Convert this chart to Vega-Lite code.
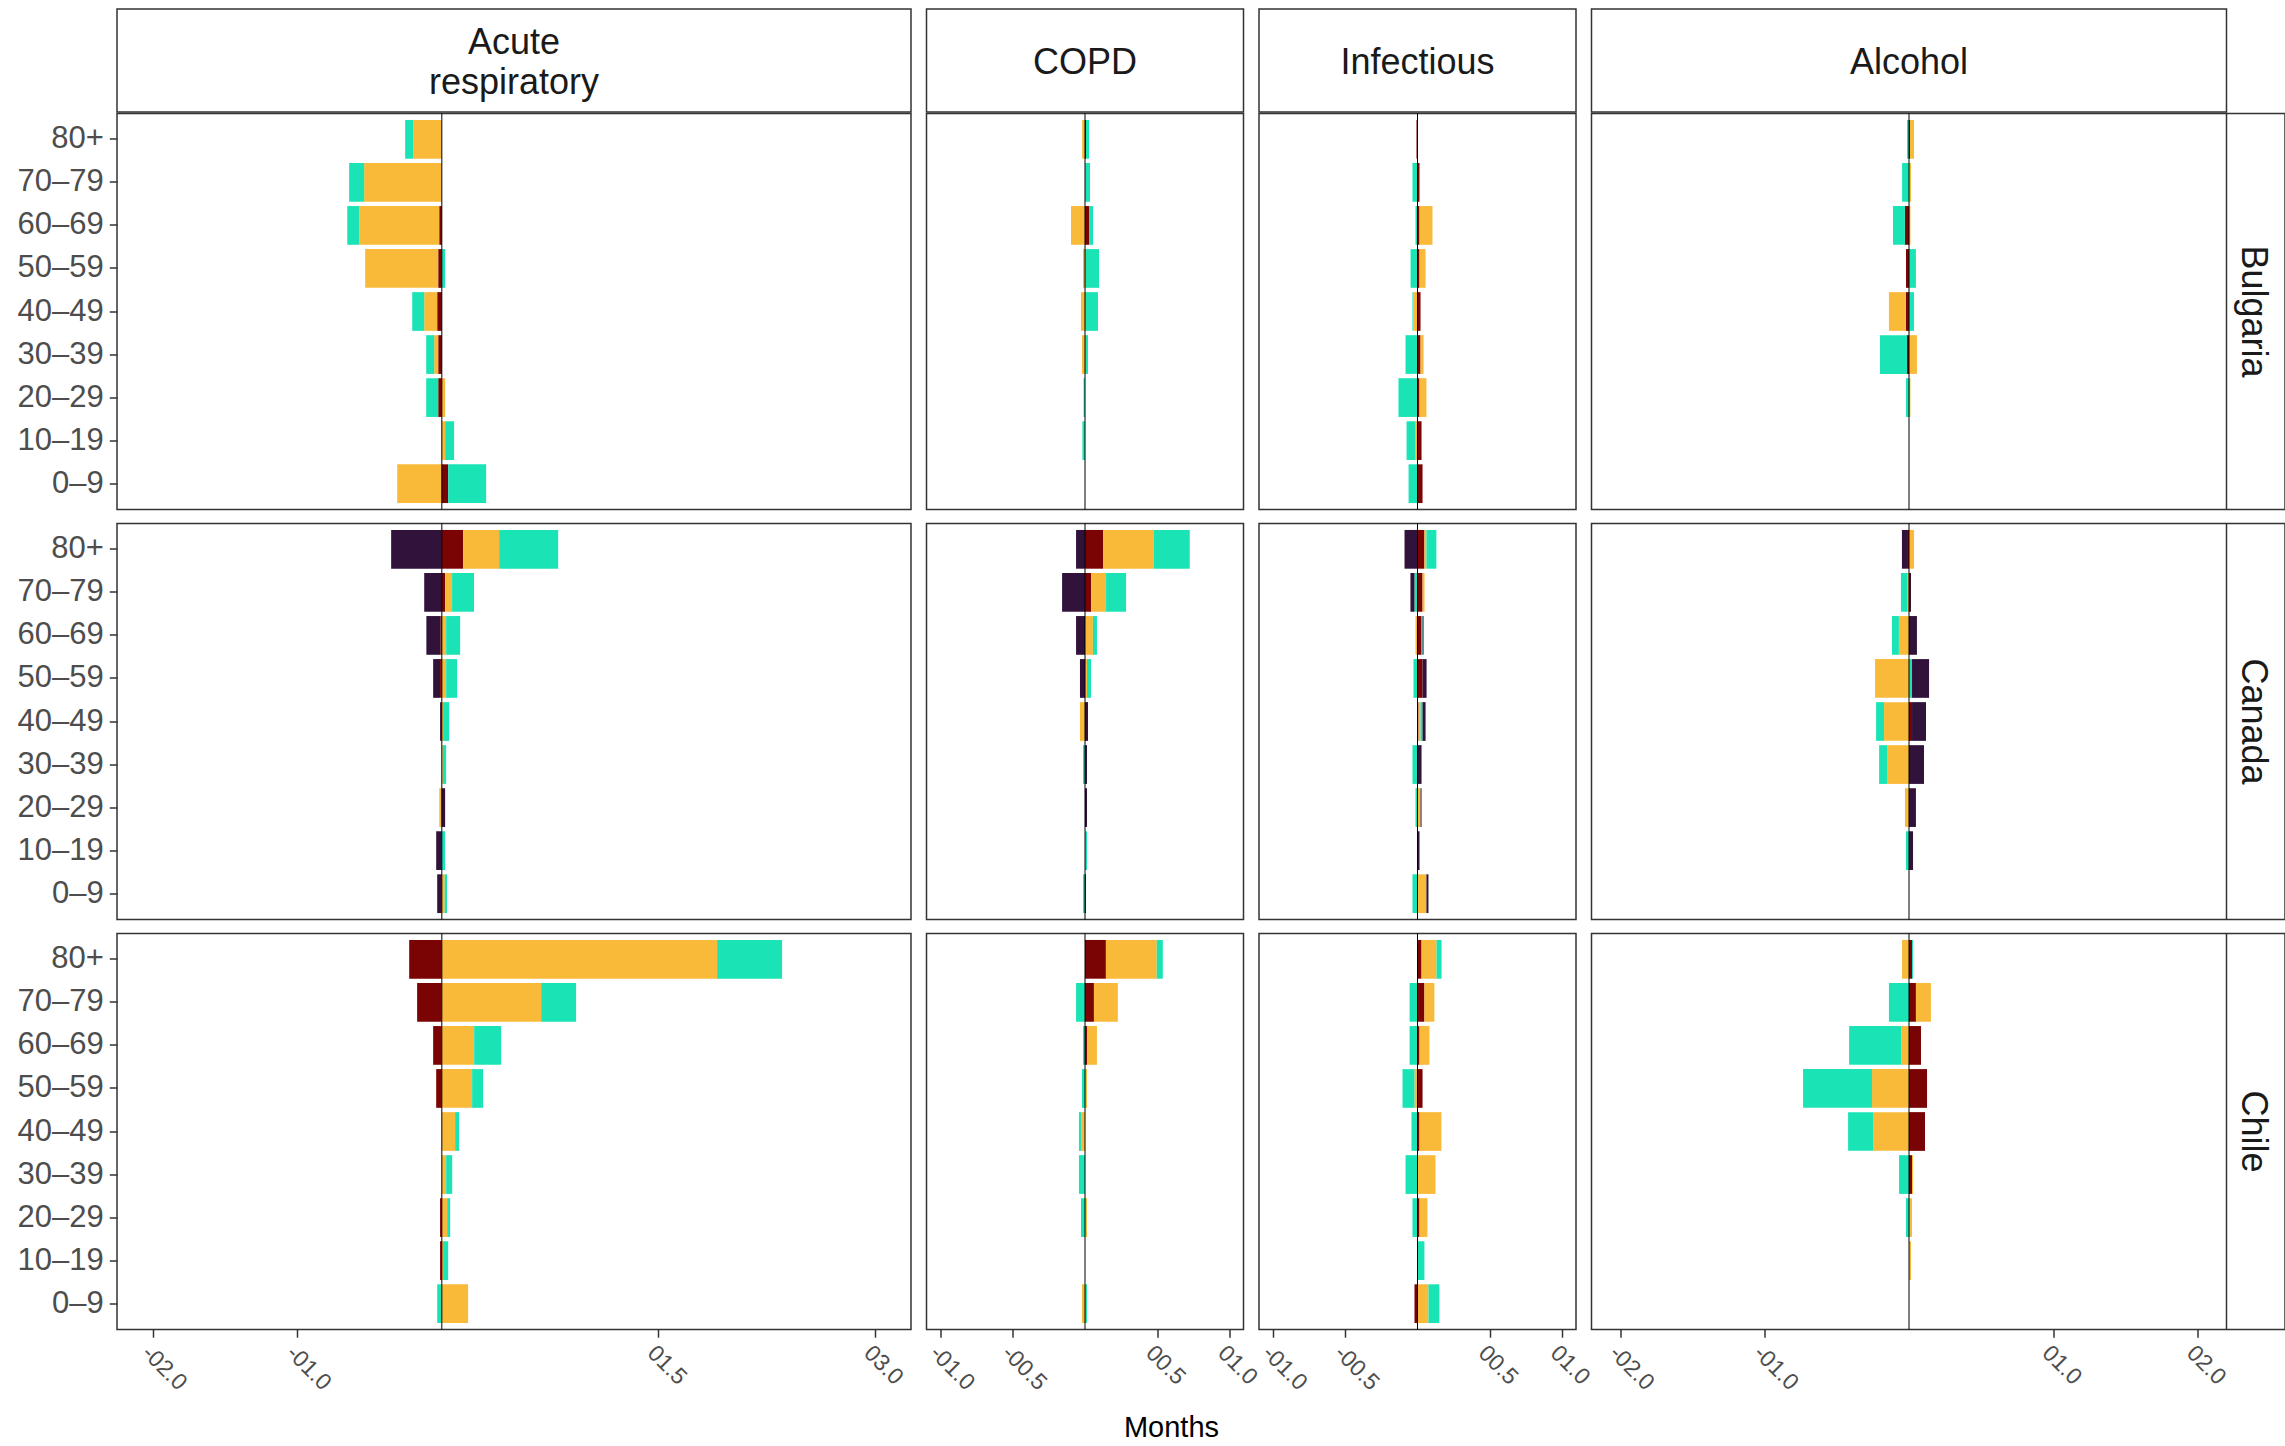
{
  "$schema": "https://vega.github.io/schema/vega-lite/v6.json",
  "background": "white",
  "padding": {"left": 16, "top": 8, "right": 0, "bottom": 0},
  "config": {
    "view": {"stroke": "#333333", "strokeWidth": 1.5},
    "font": "Liberation Sans",
    "axis": {"grid": false, "domain": false}
  },
  "datasets": {
    "d": [
      {"country":"Bulgaria","cause":"Acute respiratory","age":"80+","grp":3,"v":-0.199},
      {"country":"Bulgaria","cause":"Acute respiratory","age":"80+","grp":2,"v":-0.055},
      {"country":"Bulgaria","cause":"Acute respiratory","age":"70–79","grp":3,"v":-0.538},
      {"country":"Bulgaria","cause":"Acute respiratory","age":"70–79","grp":2,"v":-0.104},
      {"country":"Bulgaria","cause":"Acute respiratory","age":"60–69","grp":4,"v":-0.018},
      {"country":"Bulgaria","cause":"Acute respiratory","age":"60–69","grp":3,"v":-0.554},
      {"country":"Bulgaria","cause":"Acute respiratory","age":"60–69","grp":2,"v":-0.083},
      {"country":"Bulgaria","cause":"Acute respiratory","age":"50–59","grp":4,"v":-0.025},
      {"country":"Bulgaria","cause":"Acute respiratory","age":"50–59","grp":3,"v":-0.506},
      {"country":"Bulgaria","cause":"Acute respiratory","age":"50–59","grp":2,"v":0.023},
      {"country":"Bulgaria","cause":"Acute respiratory","age":"40–49","grp":4,"v":-0.032},
      {"country":"Bulgaria","cause":"Acute respiratory","age":"40–49","grp":3,"v":-0.090},
      {"country":"Bulgaria","cause":"Acute respiratory","age":"40–49","grp":2,"v":-0.083},
      {"country":"Bulgaria","cause":"Acute respiratory","age":"30–39","grp":4,"v":-0.025},
      {"country":"Bulgaria","cause":"Acute respiratory","age":"30–39","grp":3,"v":-0.028},
      {"country":"Bulgaria","cause":"Acute respiratory","age":"30–39","grp":2,"v":-0.055},
      {"country":"Bulgaria","cause":"Acute respiratory","age":"20–29","grp":4,"v":-0.025},
      {"country":"Bulgaria","cause":"Acute respiratory","age":"20–29","grp":2,"v":-0.083},
      {"country":"Bulgaria","cause":"Acute respiratory","age":"20–29","grp":3,"v":0.023},
      {"country":"Bulgaria","cause":"Acute respiratory","age":"10–19","grp":3,"v":0.023},
      {"country":"Bulgaria","cause":"Acute respiratory","age":"10–19","grp":2,"v":0.062},
      {"country":"Bulgaria","cause":"Acute respiratory","age":"0–9","grp":3,"v":-0.309},
      {"country":"Bulgaria","cause":"Acute respiratory","age":"0–9","grp":4,"v":0.044},
      {"country":"Bulgaria","cause":"Acute respiratory","age":"0–9","grp":2,"v":0.263},

      {"country":"Canada","cause":"Acute respiratory","age":"80+","grp":1,"v":-0.351},
      {"country":"Canada","cause":"Acute respiratory","age":"80+","grp":4,"v":0.148},
      {"country":"Canada","cause":"Acute respiratory","age":"80+","grp":3,"v":0.249},
      {"country":"Canada","cause":"Acute respiratory","age":"80+","grp":2,"v":0.409},
      {"country":"Canada","cause":"Acute respiratory","age":"70–79","grp":1,"v":-0.122},
      {"country":"Canada","cause":"Acute respiratory","age":"70–79","grp":4,"v":0.023},
      {"country":"Canada","cause":"Acute respiratory","age":"70–79","grp":3,"v":0.048},
      {"country":"Canada","cause":"Acute respiratory","age":"70–79","grp":2,"v":0.152},
      {"country":"Canada","cause":"Acute respiratory","age":"60–69","grp":4,"v":-0.010},
      {"country":"Canada","cause":"Acute respiratory","age":"60–69","grp":1,"v":-0.097},
      {"country":"Canada","cause":"Acute respiratory","age":"60–69","grp":3,"v":0.030},
      {"country":"Canada","cause":"Acute respiratory","age":"60–69","grp":2,"v":0.097},
      {"country":"Canada","cause":"Acute respiratory","age":"50–59","grp":4,"v":-0.012},
      {"country":"Canada","cause":"Acute respiratory","age":"50–59","grp":1,"v":-0.048},
      {"country":"Canada","cause":"Acute respiratory","age":"50–59","grp":3,"v":0.030},
      {"country":"Canada","cause":"Acute respiratory","age":"50–59","grp":2,"v":0.076},
      {"country":"Canada","cause":"Acute respiratory","age":"40–49","grp":1,"v":-0.012},
      {"country":"Canada","cause":"Acute respiratory","age":"40–49","grp":3,"v":0.009},
      {"country":"Canada","cause":"Acute respiratory","age":"40–49","grp":2,"v":0.042},
      {"country":"Canada","cause":"Acute respiratory","age":"30–39","grp":3,"v":0.007},
      {"country":"Canada","cause":"Acute respiratory","age":"30–39","grp":2,"v":0.023},
      {"country":"Canada","cause":"Acute respiratory","age":"20–29","grp":3,"v":-0.018},
      {"country":"Canada","cause":"Acute respiratory","age":"20–29","grp":1,"v":0.023},
      {"country":"Canada","cause":"Acute respiratory","age":"10–19","grp":1,"v":-0.039},
      {"country":"Canada","cause":"Acute respiratory","age":"10–19","grp":2,"v":0.023},
      {"country":"Canada","cause":"Acute respiratory","age":"0–9","grp":1,"v":-0.032},
      {"country":"Canada","cause":"Acute respiratory","age":"0–9","grp":3,"v":0.020},
      {"country":"Canada","cause":"Acute respiratory","age":"0–9","grp":2,"v":0.016},

      {"country":"Chile","cause":"Acute respiratory","age":"80+","grp":4,"v":-0.226},
      {"country":"Chile","cause":"Acute respiratory","age":"80+","grp":3,"v":1.907},
      {"country":"Chile","cause":"Acute respiratory","age":"80+","grp":2,"v":0.450},
      {"country":"Chile","cause":"Acute respiratory","age":"70–79","grp":4,"v":-0.171},
      {"country":"Chile","cause":"Acute respiratory","age":"70–79","grp":3,"v":0.688},
      {"country":"Chile","cause":"Acute respiratory","age":"70–79","grp":2,"v":0.242},
      {"country":"Chile","cause":"Acute respiratory","age":"60–69","grp":4,"v":-0.060},
      {"country":"Chile","cause":"Acute respiratory","age":"60–69","grp":3,"v":0.224},
      {"country":"Chile","cause":"Acute respiratory","age":"60–69","grp":2,"v":0.187},
      {"country":"Chile","cause":"Acute respiratory","age":"50–59","grp":4,"v":-0.039},
      {"country":"Chile","cause":"Acute respiratory","age":"50–59","grp":3,"v":0.210},
      {"country":"Chile","cause":"Acute respiratory","age":"50–59","grp":2,"v":0.076},
      {"country":"Chile","cause":"Acute respiratory","age":"40–49","grp":3,"v":0.092},
      {"country":"Chile","cause":"Acute respiratory","age":"40–49","grp":2,"v":0.028},
      {"country":"Chile","cause":"Acute respiratory","age":"30–39","grp":3,"v":0.030},
      {"country":"Chile","cause":"Acute respiratory","age":"30–39","grp":2,"v":0.042},
      {"country":"Chile","cause":"Acute respiratory","age":"20–29","grp":4,"v":-0.012},
      {"country":"Chile","cause":"Acute respiratory","age":"20–29","grp":3,"v":0.037},
      {"country":"Chile","cause":"Acute respiratory","age":"20–29","grp":2,"v":0.021},
      {"country":"Chile","cause":"Acute respiratory","age":"10–19","grp":4,"v":-0.012},
      {"country":"Chile","cause":"Acute respiratory","age":"10–19","grp":3,"v":0.009},
      {"country":"Chile","cause":"Acute respiratory","age":"10–19","grp":2,"v":0.035},
      {"country":"Chile","cause":"Acute respiratory","age":"0–9","grp":2,"v":-0.032},
      {"country":"Chile","cause":"Acute respiratory","age":"0–9","grp":3,"v":0.182},

      {"country":"Bulgaria","cause":"COPD","age":"80+","grp":3,"v":-0.020},
      {"country":"Bulgaria","cause":"COPD","age":"80+","grp":4,"v":0.007},
      {"country":"Bulgaria","cause":"COPD","age":"80+","grp":2,"v":0.021},
      {"country":"Bulgaria","cause":"COPD","age":"70–79","grp":2,"v":0.035},
      {"country":"Bulgaria","cause":"COPD","age":"60–69","grp":3,"v":-0.097},
      {"country":"Bulgaria","cause":"COPD","age":"60–69","grp":4,"v":0.028},
      {"country":"Bulgaria","cause":"COPD","age":"60–69","grp":2,"v":0.028},
      {"country":"Bulgaria","cause":"COPD","age":"50–59","grp":3,"v":-0.014},
      {"country":"Bulgaria","cause":"COPD","age":"50–59","grp":2,"v":0.097},
      {"country":"Bulgaria","cause":"COPD","age":"40–49","grp":3,"v":-0.028},
      {"country":"Bulgaria","cause":"COPD","age":"40–49","grp":2,"v":0.090},
      {"country":"Bulgaria","cause":"COPD","age":"30–39","grp":3,"v":-0.021},
      {"country":"Bulgaria","cause":"COPD","age":"30–39","grp":2,"v":0.021},
      {"country":"Bulgaria","cause":"COPD","age":"20–29","grp":2,"v":-0.010},
      {"country":"Bulgaria","cause":"COPD","age":"10–19","grp":2,"v":-0.018},

      {"country":"Canada","cause":"COPD","age":"80+","grp":1,"v":-0.062},
      {"country":"Canada","cause":"COPD","age":"80+","grp":4,"v":0.125},
      {"country":"Canada","cause":"COPD","age":"80+","grp":3,"v":0.353},
      {"country":"Canada","cause":"COPD","age":"80+","grp":2,"v":0.249},
      {"country":"Canada","cause":"COPD","age":"70–79","grp":1,"v":-0.159},
      {"country":"Canada","cause":"COPD","age":"70–79","grp":4,"v":0.042},
      {"country":"Canada","cause":"COPD","age":"70–79","grp":3,"v":0.104},
      {"country":"Canada","cause":"COPD","age":"70–79","grp":2,"v":0.139},
      {"country":"Canada","cause":"COPD","age":"60–69","grp":1,"v":-0.062},
      {"country":"Canada","cause":"COPD","age":"60–69","grp":3,"v":0.055},
      {"country":"Canada","cause":"COPD","age":"60–69","grp":2,"v":0.028},
      {"country":"Canada","cause":"COPD","age":"50–59","grp":1,"v":-0.035},
      {"country":"Canada","cause":"COPD","age":"50–59","grp":3,"v":0.014},
      {"country":"Canada","cause":"COPD","age":"50–59","grp":2,"v":0.028},
      {"country":"Canada","cause":"COPD","age":"40–49","grp":3,"v":-0.035},
      {"country":"Canada","cause":"COPD","age":"40–49","grp":1,"v":0.021},
      {"country":"Canada","cause":"COPD","age":"30–39","grp":2,"v":-0.014},
      {"country":"Canada","cause":"COPD","age":"30–39","grp":1,"v":0.014},
      {"country":"Canada","cause":"COPD","age":"20–29","grp":1,"v":0.014},
      {"country":"Canada","cause":"COPD","age":"10–19","grp":2,"v":0.014},
      {"country":"Canada","cause":"COPD","age":"0–9","grp":2,"v":-0.014},
      {"country":"Canada","cause":"COPD","age":"0–9","grp":1,"v":0.007},

      {"country":"Chile","cause":"COPD","age":"80+","grp":4,"v":0.145},
      {"country":"Chile","cause":"COPD","age":"80+","grp":3,"v":0.353},
      {"country":"Chile","cause":"COPD","age":"80+","grp":2,"v":0.042},
      {"country":"Chile","cause":"COPD","age":"70–79","grp":2,"v":-0.062},
      {"country":"Chile","cause":"COPD","age":"70–79","grp":4,"v":0.062},
      {"country":"Chile","cause":"COPD","age":"70–79","grp":3,"v":0.166},
      {"country":"Chile","cause":"COPD","age":"60–69","grp":2,"v":-0.014},
      {"country":"Chile","cause":"COPD","age":"60–69","grp":4,"v":0.014},
      {"country":"Chile","cause":"COPD","age":"60–69","grp":3,"v":0.069},
      {"country":"Chile","cause":"COPD","age":"50–59","grp":2,"v":-0.021},
      {"country":"Chile","cause":"COPD","age":"50–59","grp":3,"v":0.014},
      {"country":"Chile","cause":"COPD","age":"40–49","grp":3,"v":-0.028},
      {"country":"Chile","cause":"COPD","age":"40–49","grp":2,"v":-0.014},
      {"country":"Chile","cause":"COPD","age":"30–39","grp":2,"v":-0.042},
      {"country":"Chile","cause":"COPD","age":"20–29","grp":2,"v":-0.028},
      {"country":"Chile","cause":"COPD","age":"20–29","grp":3,"v":0.014},
      {"country":"Chile","cause":"COPD","age":"0–9","grp":3,"v":-0.021},
      {"country":"Chile","cause":"COPD","age":"0–9","grp":2,"v":0.014},

      {"country":"Bulgaria","cause":"Infectious","age":"80+","grp":4,"v":-0.007},
      {"country":"Bulgaria","cause":"Infectious","age":"70–79","grp":2,"v":-0.035},
      {"country":"Bulgaria","cause":"Infectious","age":"70–79","grp":4,"v":0.014},
      {"country":"Bulgaria","cause":"Infectious","age":"60–69","grp":2,"v":-0.014},
      {"country":"Bulgaria","cause":"Infectious","age":"60–69","grp":4,"v":0.014},
      {"country":"Bulgaria","cause":"Infectious","age":"60–69","grp":3,"v":0.090},
      {"country":"Bulgaria","cause":"Infectious","age":"50–59","grp":2,"v":-0.048},
      {"country":"Bulgaria","cause":"Infectious","age":"50–59","grp":4,"v":0.014},
      {"country":"Bulgaria","cause":"Infectious","age":"50–59","grp":3,"v":0.042},
      {"country":"Bulgaria","cause":"Infectious","age":"40–49","grp":3,"v":-0.028},
      {"country":"Bulgaria","cause":"Infectious","age":"40–49","grp":2,"v":-0.007},
      {"country":"Bulgaria","cause":"Infectious","age":"40–49","grp":4,"v":0.021},
      {"country":"Bulgaria","cause":"Infectious","age":"30–39","grp":2,"v":-0.083},
      {"country":"Bulgaria","cause":"Infectious","age":"30–39","grp":4,"v":0.021},
      {"country":"Bulgaria","cause":"Infectious","age":"30–39","grp":3,"v":0.021},
      {"country":"Bulgaria","cause":"Infectious","age":"20–29","grp":2,"v":-0.132},
      {"country":"Bulgaria","cause":"Infectious","age":"20–29","grp":4,"v":0.014},
      {"country":"Bulgaria","cause":"Infectious","age":"20–29","grp":3,"v":0.048},
      {"country":"Bulgaria","cause":"Infectious","age":"10–19","grp":3,"v":-0.014},
      {"country":"Bulgaria","cause":"Infectious","age":"10–19","grp":2,"v":-0.062},
      {"country":"Bulgaria","cause":"Infectious","age":"10–19","grp":4,"v":0.028},
      {"country":"Bulgaria","cause":"Infectious","age":"0–9","grp":2,"v":-0.062},
      {"country":"Bulgaria","cause":"Infectious","age":"0–9","grp":4,"v":0.035},

      {"country":"Canada","cause":"Infectious","age":"80+","grp":1,"v":-0.090},
      {"country":"Canada","cause":"Infectious","age":"80+","grp":4,"v":0.048},
      {"country":"Canada","cause":"Infectious","age":"80+","grp":3,"v":0.014},
      {"country":"Canada","cause":"Infectious","age":"80+","grp":2,"v":0.069},
      {"country":"Canada","cause":"Infectious","age":"70–79","grp":2,"v":-0.021},
      {"country":"Canada","cause":"Infectious","age":"70–79","grp":1,"v":-0.028},
      {"country":"Canada","cause":"Infectious","age":"70–79","grp":4,"v":0.035},
      {"country":"Canada","cause":"Infectious","age":"70–79","grp":3,"v":0.014},
      {"country":"Canada","cause":"Infectious","age":"60–69","grp":3,"v":-0.014},
      {"country":"Canada","cause":"Infectious","age":"60–69","grp":4,"v":0.028},
      {"country":"Canada","cause":"Infectious","age":"60–69","grp":2,"v":0.007},
      {"country":"Canada","cause":"Infectious","age":"60–69","grp":1,"v":0.007},
      {"country":"Canada","cause":"Infectious","age":"50–59","grp":2,"v":-0.028},
      {"country":"Canada","cause":"Infectious","age":"50–59","grp":4,"v":0.035},
      {"country":"Canada","cause":"Infectious","age":"50–59","grp":1,"v":0.028},
      {"country":"Canada","cause":"Infectious","age":"40–49","grp":4,"v":0.007},
      {"country":"Canada","cause":"Infectious","age":"40–49","grp":3,"v":0.014},
      {"country":"Canada","cause":"Infectious","age":"40–49","grp":2,"v":0.014},
      {"country":"Canada","cause":"Infectious","age":"40–49","grp":1,"v":0.021},
      {"country":"Canada","cause":"Infectious","age":"30–39","grp":2,"v":-0.035},
      {"country":"Canada","cause":"Infectious","age":"30–39","grp":1,"v":0.028},
      {"country":"Canada","cause":"Infectious","age":"20–29","grp":2,"v":-0.014},
      {"country":"Canada","cause":"Infectious","age":"20–29","grp":3,"v":0.021},
      {"country":"Canada","cause":"Infectious","age":"20–29","grp":1,"v":0.007},
      {"country":"Canada","cause":"Infectious","age":"10–19","grp":1,"v":0.014},
      {"country":"Canada","cause":"Infectious","age":"0–9","grp":2,"v":-0.035},
      {"country":"Canada","cause":"Infectious","age":"0–9","grp":3,"v":0.062},
      {"country":"Canada","cause":"Infectious","age":"0–9","grp":1,"v":0.014},

      {"country":"Chile","cause":"Infectious","age":"80+","grp":4,"v":0.028},
      {"country":"Chile","cause":"Infectious","age":"80+","grp":3,"v":0.104},
      {"country":"Chile","cause":"Infectious","age":"80+","grp":2,"v":0.035},
      {"country":"Chile","cause":"Infectious","age":"70–79","grp":2,"v":-0.055},
      {"country":"Chile","cause":"Infectious","age":"70–79","grp":4,"v":0.048},
      {"country":"Chile","cause":"Infectious","age":"70–79","grp":3,"v":0.069},
      {"country":"Chile","cause":"Infectious","age":"60–69","grp":2,"v":-0.055},
      {"country":"Chile","cause":"Infectious","age":"60–69","grp":4,"v":0.014},
      {"country":"Chile","cause":"Infectious","age":"60–69","grp":3,"v":0.069},
      {"country":"Chile","cause":"Infectious","age":"50–59","grp":3,"v":-0.021},
      {"country":"Chile","cause":"Infectious","age":"50–59","grp":2,"v":-0.083},
      {"country":"Chile","cause":"Infectious","age":"50–59","grp":4,"v":0.035},
      {"country":"Chile","cause":"Infectious","age":"40–49","grp":2,"v":-0.042},
      {"country":"Chile","cause":"Infectious","age":"40–49","grp":4,"v":0.014},
      {"country":"Chile","cause":"Infectious","age":"40–49","grp":3,"v":0.152},
      {"country":"Chile","cause":"Infectious","age":"30–39","grp":2,"v":-0.083},
      {"country":"Chile","cause":"Infectious","age":"30–39","grp":3,"v":0.125},
      {"country":"Chile","cause":"Infectious","age":"20–29","grp":2,"v":-0.035},
      {"country":"Chile","cause":"Infectious","age":"20–29","grp":4,"v":0.014},
      {"country":"Chile","cause":"Infectious","age":"20–29","grp":3,"v":0.055},
      {"country":"Chile","cause":"Infectious","age":"10–19","grp":2,"v":0.048},
      {"country":"Chile","cause":"Infectious","age":"0–9","grp":4,"v":-0.021},
      {"country":"Chile","cause":"Infectious","age":"0–9","grp":3,"v":0.076},
      {"country":"Chile","cause":"Infectious","age":"0–9","grp":2,"v":0.076},

      {"country":"Bulgaria","cause":"Alcohol","age":"80+","grp":2,"v":-0.014},
      {"country":"Bulgaria","cause":"Alcohol","age":"80+","grp":4,"v":0.007},
      {"country":"Bulgaria","cause":"Alcohol","age":"80+","grp":3,"v":0.028},
      {"country":"Bulgaria","cause":"Alcohol","age":"70–79","grp":2,"v":-0.048},
      {"country":"Bulgaria","cause":"Alcohol","age":"70–79","grp":3,"v":0.014},
      {"country":"Bulgaria","cause":"Alcohol","age":"60–69","grp":4,"v":-0.028},
      {"country":"Bulgaria","cause":"Alcohol","age":"60–69","grp":2,"v":-0.083},
      {"country":"Bulgaria","cause":"Alcohol","age":"60–69","grp":3,"v":0.010},
      {"country":"Bulgaria","cause":"Alcohol","age":"50–59","grp":4,"v":-0.021},
      {"country":"Bulgaria","cause":"Alcohol","age":"50–59","grp":2,"v":0.048},
      {"country":"Bulgaria","cause":"Alcohol","age":"40–49","grp":4,"v":-0.021},
      {"country":"Bulgaria","cause":"Alcohol","age":"40–49","grp":3,"v":-0.118},
      {"country":"Bulgaria","cause":"Alcohol","age":"40–49","grp":2,"v":0.035},
      {"country":"Bulgaria","cause":"Alcohol","age":"30–39","grp":4,"v":-0.014},
      {"country":"Bulgaria","cause":"Alcohol","age":"30–39","grp":2,"v":-0.187},
      {"country":"Bulgaria","cause":"Alcohol","age":"30–39","grp":3,"v":0.055},
      {"country":"Bulgaria","cause":"Alcohol","age":"20–29","grp":2,"v":-0.021},
      {"country":"Bulgaria","cause":"Alcohol","age":"20–29","grp":3,"v":0.010},

      {"country":"Canada","cause":"Alcohol","age":"80+","grp":4,"v":-0.014},
      {"country":"Canada","cause":"Alcohol","age":"80+","grp":1,"v":-0.035},
      {"country":"Canada","cause":"Alcohol","age":"80+","grp":3,"v":0.035},
      {"country":"Canada","cause":"Alcohol","age":"70–79","grp":3,"v":-0.014},
      {"country":"Canada","cause":"Alcohol","age":"70–79","grp":2,"v":-0.042},
      {"country":"Canada","cause":"Alcohol","age":"70–79","grp":1,"v":0.014},
      {"country":"Canada","cause":"Alcohol","age":"60–69","grp":3,"v":-0.070},
      {"country":"Canada","cause":"Alcohol","age":"60–69","grp":2,"v":-0.048},
      {"country":"Canada","cause":"Alcohol","age":"60–69","grp":1,"v":0.055},
      {"country":"Canada","cause":"Alcohol","age":"50–59","grp":3,"v":-0.235},
      {"country":"Canada","cause":"Alcohol","age":"50–59","grp":2,"v":0.021},
      {"country":"Canada","cause":"Alcohol","age":"50–59","grp":1,"v":0.118},
      {"country":"Canada","cause":"Alcohol","age":"40–49","grp":3,"v":-0.173},
      {"country":"Canada","cause":"Alcohol","age":"40–49","grp":2,"v":-0.055},
      {"country":"Canada","cause":"Alcohol","age":"40–49","grp":4,"v":0.021},
      {"country":"Canada","cause":"Alcohol","age":"40–49","grp":1,"v":0.097},
      {"country":"Canada","cause":"Alcohol","age":"30–39","grp":3,"v":-0.152},
      {"country":"Canada","cause":"Alcohol","age":"30–39","grp":2,"v":-0.055},
      {"country":"Canada","cause":"Alcohol","age":"30–39","grp":1,"v":0.104},
      {"country":"Canada","cause":"Alcohol","age":"20–29","grp":3,"v":-0.028},
      {"country":"Canada","cause":"Alcohol","age":"20–29","grp":1,"v":0.048},
      {"country":"Canada","cause":"Alcohol","age":"10–19","grp":2,"v":-0.021},
      {"country":"Canada","cause":"Alcohol","age":"10–19","grp":1,"v":0.028},

      {"country":"Chile","cause":"Alcohol","age":"80+","grp":3,"v":-0.048},
      {"country":"Chile","cause":"Alcohol","age":"80+","grp":4,"v":0.021},
      {"country":"Chile","cause":"Alcohol","age":"80+","grp":2,"v":0.007},
      {"country":"Chile","cause":"Alcohol","age":"70–79","grp":2,"v":-0.139},
      {"country":"Chile","cause":"Alcohol","age":"70–79","grp":4,"v":0.048},
      {"country":"Chile","cause":"Alcohol","age":"70–79","grp":3,"v":0.104},
      {"country":"Chile","cause":"Alcohol","age":"60–69","grp":3,"v":-0.055},
      {"country":"Chile","cause":"Alcohol","age":"60–69","grp":2,"v":-0.360},
      {"country":"Chile","cause":"Alcohol","age":"60–69","grp":4,"v":0.083},
      {"country":"Chile","cause":"Alcohol","age":"50–59","grp":3,"v":-0.256},
      {"country":"Chile","cause":"Alcohol","age":"50–59","grp":2,"v":-0.478},
      {"country":"Chile","cause":"Alcohol","age":"50–59","grp":4,"v":0.125},
      {"country":"Chile","cause":"Alcohol","age":"40–49","grp":3,"v":-0.249},
      {"country":"Chile","cause":"Alcohol","age":"40–49","grp":2,"v":-0.173},
      {"country":"Chile","cause":"Alcohol","age":"40–49","grp":4,"v":0.111},
      {"country":"Chile","cause":"Alcohol","age":"30–39","grp":2,"v":-0.069},
      {"country":"Chile","cause":"Alcohol","age":"30–39","grp":4,"v":0.021},
      {"country":"Chile","cause":"Alcohol","age":"30–39","grp":3,"v":0.007},
      {"country":"Chile","cause":"Alcohol","age":"20–29","grp":2,"v":-0.021},
      {"country":"Chile","cause":"Alcohol","age":"20–29","grp":3,"v":0.021},
      {"country":"Chile","cause":"Alcohol","age":"10–19","grp":3,"v":0.014}
    ]
  },
  "spacing": -1.5,
  "vconcat": [
    {
      "hconcat": [
        {"width": 794, "height": 103, "data": {"values": [{"label": "Acute\nrespiratory", "age": "70–79"}]},
         "mark": {"type": "text", "fontSize": 36, "color": "#1a1a1a", "lineBreak": "\n", "lineHeight": 40, "dy": -18},
         "encoding": {"text": {"field": "label"},
           "y": {"field": "age", "type": "nominal", "axis": {"title": null, "labelFontSize": 31, "labelOpacity": 0, "labelPadding": 6, "tickSize": 7.7, "tickOpacity": 0, "domain": false}}}},
        {"width": 317, "height": 103, "data": {"values": [{"label": "COPD", "age": "70–79"}]},
         "mark": {"type": "text", "fontSize": 36, "color": "#1a1a1a", "dy": 2},
         "encoding": {"text": {"field": "label"}, "y": {"field": "age", "type": "nominal", "axis": null}}},
        {"width": 317, "height": 103, "data": {"values": [{"label": "Infectious", "age": "70–79"}]},
         "mark": {"type": "text", "fontSize": 36, "color": "#1a1a1a", "dy": 2},
         "encoding": {"text": {"field": "label"}, "y": {"field": "age", "type": "nominal", "axis": null}}},
        {"width": 635, "height": 103, "data": {"values": [{"label": "Alcohol", "age": "70–79"}]},
         "mark": {"type": "text", "fontSize": 36, "color": "#1a1a1a", "dy": 2},
         "encoding": {"text": {"field": "label"}, "y": {"field": "age", "type": "nominal", "axis": null}}}
      ],
      "spacing": 15.5, "bounds": "flush"
    },
    {
      "spacing": 10,
      "vconcat": [
        {
          "hconcat": [
            {"width": 794, "height": 396, "layer": [
              {"data": {"name": "d"}, "transform": [{"filter": "datum.country === 'Bulgaria' && datum.cause === 'Acute respiratory'"}],
               "mark": "bar",
               "encoding": {
                 "y": {"field": "age", "type": "nominal", "scale": {"domain": ["80+","70–79","60–69","50–59","40–49","30–39","20–29","10–19","0–9"], "paddingInner": 0.1, "paddingOuter": 0.15},
                       "axis": {"title": null, "labelFontSize": 31, "labelColor": "#4d4d4d", "labelPadding": 6, "tickSize": 7.7, "tickWidth": 1.5, "tickColor": "#333333", "domain": false}},
                 "x": {"field": "v", "type": "quantitative", "stack": "zero", "scale": {"domain": [-2.25, 3.25], "nice": false, "zero": false}, "axis": null},
                 "color": {"field": "grp", "type": "nominal", "scale": {"domain": [1,2,3,4], "range": ["#30123b","#1ae4b6","#faba39","#7a0403"]}, "legend": null},
                 "order": {"field": "grp", "type": "quantitative", "sort": "descending"}}},
              {"data": {"values": [{}]}, "mark": {"type": "rule", "color": "black", "strokeWidth": 1}, "encoding": {"x": {"datum": 0}}}
            ]},
            {"width": 317, "height": 396, "layer": [
              {"data": {"name": "d"}, "transform": [{"filter": "datum.country === 'Bulgaria' && datum.cause === 'COPD'"}],
               "mark": "bar",
               "encoding": {
                 "y": {"field": "age", "type": "nominal", "scale": {"domain": ["80+","70–79","60–69","50–59","40–49","30–39","20–29","10–19","0–9"], "paddingInner": 0.1, "paddingOuter": 0.15}, "axis": null},
                 "x": {"field": "v", "type": "quantitative", "stack": "zero", "scale": {"domain": [-1.1, 1.1], "nice": false, "zero": false}, "axis": null},
                 "color": {"field": "grp", "type": "nominal", "scale": {"domain": [1,2,3,4], "range": ["#30123b","#1ae4b6","#faba39","#7a0403"]}, "legend": null},
                 "order": {"field": "grp", "type": "quantitative", "sort": "descending"}}},
              {"data": {"values": [{}]}, "mark": {"type": "rule", "color": "black", "strokeWidth": 1}, "encoding": {"x": {"datum": 0}}}
            ]},
            {"width": 317, "height": 396, "layer": [
              {"data": {"name": "d"}, "transform": [{"filter": "datum.country === 'Bulgaria' && datum.cause === 'Infectious'"}],
               "mark": "bar",
               "encoding": {
                 "y": {"field": "age", "type": "nominal", "scale": {"domain": ["80+","70–79","60–69","50–59","40–49","30–39","20–29","10–19","0–9"], "paddingInner": 0.1, "paddingOuter": 0.15}, "axis": null},
                 "x": {"field": "v", "type": "quantitative", "stack": "zero", "scale": {"domain": [-1.1, 1.1], "nice": false, "zero": false}, "axis": null},
                 "color": {"field": "grp", "type": "nominal", "scale": {"domain": [1,2,3,4], "range": ["#30123b","#1ae4b6","#faba39","#7a0403"]}, "legend": null},
                 "order": {"field": "grp", "type": "quantitative", "sort": "descending"}}},
              {"data": {"values": [{}]}, "mark": {"type": "rule", "color": "black", "strokeWidth": 1}, "encoding": {"x": {"datum": 0}}}
            ]},
            {"width": 693.5, "height": 396, "layer": [
              {"data": {"name": "d"}, "transform": [{"filter": "datum.country === 'Bulgaria' && datum.cause === 'Alcohol'"}],
               "mark": "bar",
               "encoding": {
                 "y": {"field": "age", "type": "nominal", "scale": {"domain": ["80+","70–79","60–69","50–59","40–49","30–39","20–29","10–19","0–9"], "paddingInner": 0.1, "paddingOuter": 0.15}, "axis": null},
                 "x": {"field": "v", "type": "quantitative", "stack": "zero", "scale": {"domain": [-2.2, 2.2], "range": [0, 635], "nice": false, "zero": false}, "axis": null},
                 "color": {"field": "grp", "type": "nominal", "scale": {"domain": [1,2,3,4], "range": ["#30123b","#1ae4b6","#faba39","#7a0403"]}, "legend": null},
                 "order": {"field": "grp", "type": "quantitative", "sort": "descending"}}},
              {"data": {"values": [{}]}, "mark": {"type": "rule", "color": "black", "strokeWidth": 1}, "encoding": {"x": {"datum": 0}}},
              {"data": {"values": [{}]}, "mark": {"type": "rule", "color": "#333333", "strokeWidth": 1.5}, "encoding": {"x": {"datum": 2.2}}},
              {"data": {"values": [{"country": "Bulgaria"}]}, "mark": {"type": "text", "angle": 90, "fontSize": 36, "color": "#1a1a1a"},
               "encoding": {"x": {"datum": 2.384}, "text": {"field": "country"}}}
            ]}
          ],
          "spacing": 15.5, "bounds": "flush"
        },
        {
          "hconcat": [
            {"width": 794, "height": 396, "layer": [
              {"data": {"name": "d"}, "transform": [{"filter": "datum.country === 'Canada' && datum.cause === 'Acute respiratory'"}],
               "mark": "bar",
               "encoding": {
                 "y": {"field": "age", "type": "nominal", "scale": {"domain": ["80+","70–79","60–69","50–59","40–49","30–39","20–29","10–19","0–9"], "paddingInner": 0.1, "paddingOuter": 0.15},
                       "axis": {"title": null, "labelFontSize": 31, "labelColor": "#4d4d4d", "labelPadding": 6, "tickSize": 7.7, "tickWidth": 1.5, "tickColor": "#333333", "domain": false}},
                 "x": {"field": "v", "type": "quantitative", "stack": "zero", "scale": {"domain": [-2.25, 3.25], "nice": false, "zero": false}, "axis": null},
                 "color": {"field": "grp", "type": "nominal", "scale": {"domain": [1,2,3,4], "range": ["#30123b","#1ae4b6","#faba39","#7a0403"]}, "legend": null},
                 "order": {"field": "grp", "type": "quantitative", "sort": "descending"}}},
              {"data": {"values": [{}]}, "mark": {"type": "rule", "color": "black", "strokeWidth": 1}, "encoding": {"x": {"datum": 0}}}
            ]},
            {"width": 317, "height": 396, "layer": [
              {"data": {"name": "d"}, "transform": [{"filter": "datum.country === 'Canada' && datum.cause === 'COPD'"}],
               "mark": "bar",
               "encoding": {
                 "y": {"field": "age", "type": "nominal", "scale": {"domain": ["80+","70–79","60–69","50–59","40–49","30–39","20–29","10–19","0–9"], "paddingInner": 0.1, "paddingOuter": 0.15}, "axis": null},
                 "x": {"field": "v", "type": "quantitative", "stack": "zero", "scale": {"domain": [-1.1, 1.1], "nice": false, "zero": false}, "axis": null},
                 "color": {"field": "grp", "type": "nominal", "scale": {"domain": [1,2,3,4], "range": ["#30123b","#1ae4b6","#faba39","#7a0403"]}, "legend": null},
                 "order": {"field": "grp", "type": "quantitative", "sort": "descending"}}},
              {"data": {"values": [{}]}, "mark": {"type": "rule", "color": "black", "strokeWidth": 1}, "encoding": {"x": {"datum": 0}}}
            ]},
            {"width": 317, "height": 396, "layer": [
              {"data": {"name": "d"}, "transform": [{"filter": "datum.country === 'Canada' && datum.cause === 'Infectious'"}],
               "mark": "bar",
               "encoding": {
                 "y": {"field": "age", "type": "nominal", "scale": {"domain": ["80+","70–79","60–69","50–59","40–49","30–39","20–29","10–19","0–9"], "paddingInner": 0.1, "paddingOuter": 0.15}, "axis": null},
                 "x": {"field": "v", "type": "quantitative", "stack": "zero", "scale": {"domain": [-1.1, 1.1], "nice": false, "zero": false}, "axis": null},
                 "color": {"field": "grp", "type": "nominal", "scale": {"domain": [1,2,3,4], "range": ["#30123b","#1ae4b6","#faba39","#7a0403"]}, "legend": null},
                 "order": {"field": "grp", "type": "quantitative", "sort": "descending"}}},
              {"data": {"values": [{}]}, "mark": {"type": "rule", "color": "black", "strokeWidth": 1}, "encoding": {"x": {"datum": 0}}}
            ]},
            {"width": 693.5, "height": 396, "layer": [
              {"data": {"name": "d"}, "transform": [{"filter": "datum.country === 'Canada' && datum.cause === 'Alcohol'"}],
               "mark": "bar",
               "encoding": {
                 "y": {"field": "age", "type": "nominal", "scale": {"domain": ["80+","70–79","60–69","50–59","40–49","30–39","20–29","10–19","0–9"], "paddingInner": 0.1, "paddingOuter": 0.15}, "axis": null},
                 "x": {"field": "v", "type": "quantitative", "stack": "zero", "scale": {"domain": [-2.2, 2.2], "range": [0, 635], "nice": false, "zero": false}, "axis": null},
                 "color": {"field": "grp", "type": "nominal", "scale": {"domain": [1,2,3,4], "range": ["#30123b","#1ae4b6","#faba39","#7a0403"]}, "legend": null},
                 "order": {"field": "grp", "type": "quantitative", "sort": "descending"}}},
              {"data": {"values": [{}]}, "mark": {"type": "rule", "color": "black", "strokeWidth": 1}, "encoding": {"x": {"datum": 0}}},
              {"data": {"values": [{}]}, "mark": {"type": "rule", "color": "#333333", "strokeWidth": 1.5}, "encoding": {"x": {"datum": 2.2}}},
              {"data": {"values": [{"country": "Canada"}]}, "mark": {"type": "text", "angle": 90, "fontSize": 36, "color": "#1a1a1a"},
               "encoding": {"x": {"datum": 2.384}, "text": {"field": "country"}}}
            ]}
          ],
          "spacing": 15.5, "bounds": "flush"
        },
        {
          "hconcat": [
            {"width": 794, "height": 396, "layer": [
              {"data": {"name": "d"}, "transform": [{"filter": "datum.country === 'Chile' && datum.cause === 'Acute respiratory'"}],
               "mark": "bar",
               "encoding": {
                 "y": {"field": "age", "type": "nominal", "scale": {"domain": ["80+","70–79","60–69","50–59","40–49","30–39","20–29","10–19","0–9"], "paddingInner": 0.1, "paddingOuter": 0.15},
                       "axis": {"title": null, "labelFontSize": 31, "labelColor": "#4d4d4d", "labelPadding": 6, "tickSize": 7.7, "tickWidth": 1.5, "tickColor": "#333333", "domain": false}},
                 "x": {"field": "v", "type": "quantitative", "stack": "zero", "scale": {"domain": [-2.25, 3.25], "nice": false, "zero": false},
                       "axis": {"title": null, "values": [-2, -1, 1.5, 3], "labelExpr": "datum.value < 0 ? '-0' + format(-datum.value, '.1f') : '0' + format(datum.value, '.1f')",
                                "labelAngle": 45, "labelAlign": "left", "labelBaseline": "top", "labelFontSize": 23, "labelColor": "#4d4d4d", "labelPadding": 4,
                                "tickSize": 7.7, "tickWidth": 1.5, "tickColor": "#333333", "domain": false}},
                 "color": {"field": "grp", "type": "nominal", "scale": {"domain": [1,2,3,4], "range": ["#30123b","#1ae4b6","#faba39","#7a0403"]}, "legend": null},
                 "order": {"field": "grp", "type": "quantitative", "sort": "descending"}}},
              {"data": {"values": [{}]}, "mark": {"type": "rule", "color": "black", "strokeWidth": 1}, "encoding": {"x": {"datum": 0}}}
            ]},
            {"width": 317, "height": 396, "layer": [
              {"data": {"name": "d"}, "transform": [{"filter": "datum.country === 'Chile' && datum.cause === 'COPD'"}],
               "mark": "bar",
               "encoding": {
                 "y": {"field": "age", "type": "nominal", "scale": {"domain": ["80+","70–79","60–69","50–59","40–49","30–39","20–29","10–19","0–9"], "paddingInner": 0.1, "paddingOuter": 0.15}, "axis": null},
                 "x": {"field": "v", "type": "quantitative", "stack": "zero", "scale": {"domain": [-1.1, 1.1], "nice": false, "zero": false},
                       "axis": {"title": "Months", "titleFontSize": 29, "titleFontWeight": "normal", "titleColor": "black", "titleX": 244.5, "titleY": 107, "titleBaseline": "alphabetic",
                                "values": [-1, -0.5, 0.5, 1], "labelExpr": "datum.value < 0 ? '-0' + format(-datum.value, '.1f') : '0' + format(datum.value, '.1f')",
                                "labelAngle": 45, "labelAlign": "left", "labelBaseline": "top", "labelFontSize": 23, "labelColor": "#4d4d4d", "labelPadding": 4,
                                "tickSize": 7.7, "tickWidth": 1.5, "tickColor": "#333333", "domain": false}},
                 "color": {"field": "grp", "type": "nominal", "scale": {"domain": [1,2,3,4], "range": ["#30123b","#1ae4b6","#faba39","#7a0403"]}, "legend": null},
                 "order": {"field": "grp", "type": "quantitative", "sort": "descending"}}},
              {"data": {"values": [{}]}, "mark": {"type": "rule", "color": "black", "strokeWidth": 1}, "encoding": {"x": {"datum": 0}}}
            ]},
            {"width": 317, "height": 396, "layer": [
              {"data": {"name": "d"}, "transform": [{"filter": "datum.country === 'Chile' && datum.cause === 'Infectious'"}],
               "mark": "bar",
               "encoding": {
                 "y": {"field": "age", "type": "nominal", "scale": {"domain": ["80+","70–79","60–69","50–59","40–49","30–39","20–29","10–19","0–9"], "paddingInner": 0.1, "paddingOuter": 0.15}, "axis": null},
                 "x": {"field": "v", "type": "quantitative", "stack": "zero", "scale": {"domain": [-1.1, 1.1], "nice": false, "zero": false},
                       "axis": {"title": null, "values": [-1, -0.5, 0.5, 1], "labelExpr": "datum.value < 0 ? '-0' + format(-datum.value, '.1f') : '0' + format(datum.value, '.1f')",
                                "labelAngle": 45, "labelAlign": "left", "labelBaseline": "top", "labelFontSize": 23, "labelColor": "#4d4d4d", "labelPadding": 4,
                                "tickSize": 7.7, "tickWidth": 1.5, "tickColor": "#333333", "domain": false}},
                 "color": {"field": "grp", "type": "nominal", "scale": {"domain": [1,2,3,4], "range": ["#30123b","#1ae4b6","#faba39","#7a0403"]}, "legend": null},
                 "order": {"field": "grp", "type": "quantitative", "sort": "descending"}}},
              {"data": {"values": [{}]}, "mark": {"type": "rule", "color": "black", "strokeWidth": 1}, "encoding": {"x": {"datum": 0}}}
            ]},
            {"width": 693.5, "height": 396, "layer": [
              {"data": {"name": "d"}, "transform": [{"filter": "datum.country === 'Chile' && datum.cause === 'Alcohol'"}],
               "mark": "bar",
               "encoding": {
                 "y": {"field": "age", "type": "nominal", "scale": {"domain": ["80+","70–79","60–69","50–59","40–49","30–39","20–29","10–19","0–9"], "paddingInner": 0.1, "paddingOuter": 0.15}, "axis": null},
                 "x": {"field": "v", "type": "quantitative", "stack": "zero", "scale": {"domain": [-2.2, 2.2], "range": [0, 635], "nice": false, "zero": false},
                       "axis": {"title": null, "values": [-2, -1, 1, 2], "labelExpr": "datum.value < 0 ? '-0' + format(-datum.value, '.1f') : '0' + format(datum.value, '.1f')",
                                "labelAngle": 45, "labelAlign": "left", "labelBaseline": "top", "labelFontSize": 23, "labelColor": "#4d4d4d", "labelPadding": 4,
                                "tickSize": 7.7, "tickWidth": 1.5, "tickColor": "#333333", "domain": false}},
                 "color": {"field": "grp", "type": "nominal", "scale": {"domain": [1,2,3,4], "range": ["#30123b","#1ae4b6","#faba39","#7a0403"]}, "legend": null},
                 "order": {"field": "grp", "type": "quantitative", "sort": "descending"}}},
              {"data": {"values": [{}]}, "mark": {"type": "rule", "color": "black", "strokeWidth": 1}, "encoding": {"x": {"datum": 0}}},
              {"data": {"values": [{}]}, "mark": {"type": "rule", "color": "#333333", "strokeWidth": 1.5}, "encoding": {"x": {"datum": 2.2}}},
              {"data": {"values": [{"country": "Chile"}]}, "mark": {"type": "text", "angle": 90, "fontSize": 36, "color": "#1a1a1a"},
               "encoding": {"x": {"datum": 2.384}, "text": {"field": "country"}}}
            ]}
          ],
          "spacing": 15.5, "bounds": "flush"
        }
      ]
    }
  ]
}
